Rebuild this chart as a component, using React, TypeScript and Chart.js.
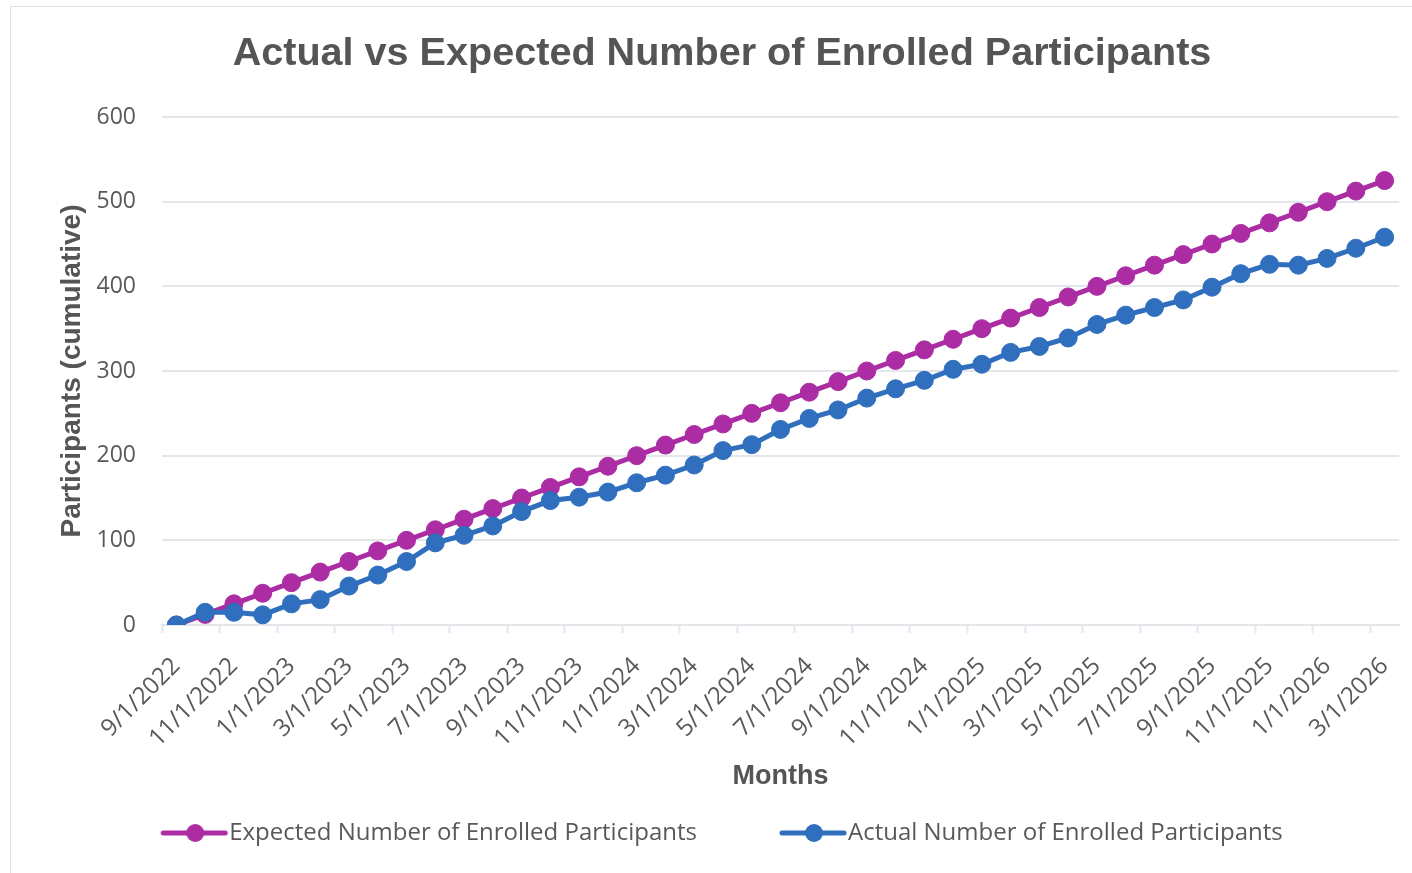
import React, { useEffect, useRef } from 'react';
import { Chart, registerables } from 'chart.js';

Chart.register(...registerables);

const months: string[] = [
  '9/1/2022', '10/1/2022', '11/1/2022', '12/1/2022',
  '1/1/2023', '2/1/2023', '3/1/2023', '4/1/2023', '5/1/2023', '6/1/2023',
  '7/1/2023', '8/1/2023', '9/1/2023', '10/1/2023', '11/1/2023', '12/1/2023',
  '1/1/2024', '2/1/2024', '3/1/2024', '4/1/2024', '5/1/2024', '6/1/2024',
  '7/1/2024', '8/1/2024', '9/1/2024', '10/1/2024', '11/1/2024', '12/1/2024',
  '1/1/2025', '2/1/2025', '3/1/2025', '4/1/2025', '5/1/2025', '6/1/2025',
  '7/1/2025', '8/1/2025', '9/1/2025', '10/1/2025', '11/1/2025', '12/1/2025',
  '1/1/2026', '2/1/2026', '3/1/2026',
];

const expectedEnrolled: number[] = [
  0, 12.5, 25, 37.5, 50, 62.5, 75, 87.5, 100, 112.5,
  125, 137.5, 150, 162.5, 175, 187.5, 200, 212.5, 225, 237.5,
  250, 262.5, 275, 287.5, 300, 312.5, 325, 337.5, 350, 362.5,
  375, 387.5, 400, 412.5, 425, 437.5, 450, 462.5, 475, 487.5,
  500, 512.5, 525,
];

const actualEnrolled: number[] = [
  0, 15, 15, 12, 25, 30, 46, 59, 75, 97,
  106, 117, 134, 147, 151, 157, 168, 177, 189, 206,
  213, 231, 244, 254, 268, 279, 289, 302, 308, 322,
  329, 339, 355, 366, 375, 384, 399, 415, 426, 425,
  433, 445, 458,
];

const seriesNames: string[] = [
  'Expected Number of Enrolled Participants',
  'Actual Number of Enrolled Participants',
];

const yMin = 0;
const yMax = 600;
const yStep = 100;

const PURPLE = '#AB2CA3';
const BLUE = '#2F6FBD';
const GRID = '#e3e6eb';
const TEXT = '#595959';
const TITLE = '#555555';

function makeSwatch(color: string): HTMLCanvasElement {
  const c = document.createElement('canvas');
  c.width = 80;
  c.height = 24;
  const g = c.getContext('2d')!;
  g.strokeStyle = color;
  g.lineWidth = 5;
  g.lineCap = 'round';
  g.beginPath();
  g.moveTo(14, 12);
  g.lineTo(76, 12);
  g.stroke();
  g.fillStyle = color;
  g.beginPath();
  g.arc(46, 12, 9, 0, Math.PI * 2);
  g.fill();
  return c;
}

export default function App() {
  const ref = useRef<HTMLCanvasElement | null>(null);

  useEffect(() => {
    if (!ref.current) return;
    const swatchE = makeSwatch(PURPLE);
    const swatchA = makeSwatch(BLUE);
    const chart = new Chart(ref.current, {
      type: 'line',
      data: {
        labels: months,
        datasets: [
          {
            label: seriesNames[0],
            data: expectedEnrolled,
            borderColor: PURPLE,
            backgroundColor: PURPLE,
            borderWidth: 5,
            pointRadius: 9,
            pointBackgroundColor: PURPLE,
            pointBorderColor: PURPLE,
            pointBorderWidth: 1,
            tension: 0,
            order: 1,
          },
          {
            label: seriesNames[1],
            data: actualEnrolled,
            borderColor: BLUE,
            backgroundColor: BLUE,
            borderWidth: 5,
            pointRadius: 9,
            pointBackgroundColor: BLUE,
            pointBorderColor: BLUE,
            pointBorderWidth: 1,
            tension: 0,
            order: 0,
          },
        ],
      },
      options: {
        responsive: false,
        animation: false,
        events: [],
        layout: { padding: { left: 34, right: 32, top: 0, bottom: 18 } },
        plugins: {
          tooltip: { enabled: false },
          title: {
            display: true,
            text: 'Actual vs Expected Number of Enrolled Participants',
            color: TITLE,
            font: { family: 'Liberation Sans', size: 39.6, weight: 'bold' },
            padding: { top: 23.7, bottom: 38.8 },
          },
          legend: {
            display: true,
            position: 'bottom',
            labels: {
              usePointStyle: true,
              pointStyleWidth: 56,
              padding: 83,
              color: TEXT,
              font: { family: 'Open Sans', size: 24 },
              generateLabels: () => [
                {
                  text: seriesNames[0],
                  fillStyle: PURPLE,
                  strokeStyle: PURPLE,
                  lineWidth: 0,
                  pointStyle: swatchE as any,
                  hidden: false,
                  datasetIndex: 0,
                  fontColor: TEXT,
                },
                {
                  text: seriesNames[1],
                  fillStyle: BLUE,
                  strokeStyle: BLUE,
                  lineWidth: 0,
                  pointStyle: swatchA as any,
                  hidden: false,
                  datasetIndex: 1,
                  fontColor: TEXT,
                },
              ],
            },
          },
        },
        scales: {
          x: {
            type: 'category',
            offset: true,
            grid: {
              display: true,
              offset: true,
              drawOnChartArea: false,
              drawTicks: true,
              tickLength: 8,
              tickWidth: 2,
              tickColor: (c: any) =>
                c.index !== undefined && c.index % 2 === 0 ? GRID : 'rgba(0,0,0,0)',
            },
            border: { display: true, color: GRID, width: 2 },
            ticks: {
              autoSkip: false,
              minRotation: 45,
              maxRotation: 45,
              padding: 19,
              color: TEXT,
              font: { family: 'Open Sans', size: 24 },
              callback: (_v: any, i: number) => (i % 2 === 0 ? months[i] : ''),
            },
            title: {
              display: true,
              text: 'Months',
              color: TITLE,
              font: { family: 'Liberation Sans', size: 27, weight: 'bold' },
              padding: { top: 0, bottom: -54.7 },
            },
            afterFit: (s: any) => {
              s.height = 113;
              // let the rotated month labels run past the axis box (no clipping)
              s._computeLabelArea = () => undefined;
            },
          },
          y: {
            min: yMin,
            max: yMax,
            grid: { color: GRID, lineWidth: 2, drawTicks: false },
            border: { display: false },
            ticks: {
              stepSize: yStep,
              padding: 26,
              color: TEXT,
              font: { family: 'Open Sans', size: 23 },
            },
            title: {
              display: true,
              text: 'Participants (cumulative)',
              color: TITLE,
              font: { family: 'Liberation Sans', size: 28, weight: 'bold' },
              padding: { top: 10, bottom: 0 },
            },
            afterFit: (s: any) => {
              s.width = 117;
            },
          },
        },
      } as any,
    });
    return () => chart.destroy();
  }, []);

  return (
    <div
      style={{
        position: 'fixed',
        left: 0,
        top: 0,
        width: 1412,
        height: 873,
        overflow: 'hidden',
        background: '#ffffff',
      }}
    >
      <div
        style={{
          position: 'absolute',
          left: 10,
          top: 6,
          borderLeft: '1px solid #dde1e7',
          borderTop: '1px solid #dde1e7',
        }}
      >
        <canvas ref={ref} width={1420} height={866} style={{ display: 'block' }} />
      </div>
    </div>
  );
}
